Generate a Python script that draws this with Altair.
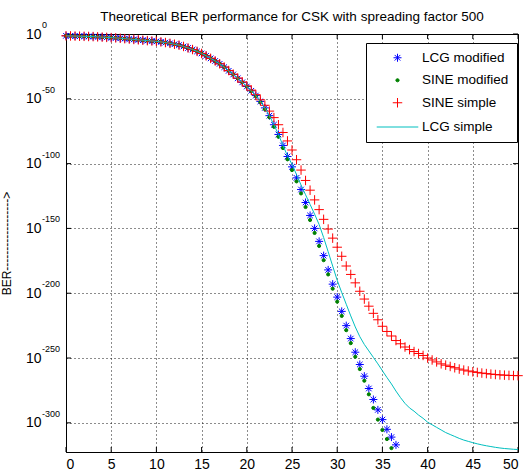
import altair as alt
import pandas as pd

# Eb/N0 grid (dB), sampled every 0.5 dB
snr = [i * 0.5 for i in range(101)]

# log10(BER) for each scheme
lcg_modified = [
    -1.4, -1.5, -1.6, -1.7, -1.8, -1.9, -2.0, -2.2, -2.4, -2.6,
    -2.8, -3.0, -3.3, -3.6, -3.9, -4.2, -4.5, -4.8, -5.1, -5.4,
    -5.7, -6.1, -6.6, -7.2, -7.9, -8.6, -9.6, -10.8, -12.0, -13.4,
    -15.0, -16.8, -18.8, -20.8, -23.0, -25.6, -28.4, -31.2, -34.2, -37.3,
    -40.5, -43.8, -47.5, -52.0, -57.0, -63.0, -70.0, -77.5, -86.0, -94.5,
    -102.5, -111.0, -120.0, -130.0, -140.0, -150.0, -160.0, -171.0, -182.0, -193.0,
    -203.0, -214.0, -225.0, -235.0, -245.5, -255.0, -264.0, -273.5, -282.0, -290.0,
    -297.5, -305.0, -311.0, -317.0,
]

sine_modified = [
    -1.4, -1.5, -1.6, -1.7, -1.8, -1.9, -2.0, -2.2, -2.4, -2.6,
    -2.8, -3.0, -3.3, -3.6, -3.9, -4.2, -4.5, -4.8, -5.1, -5.4,
    -5.7, -6.1, -6.6, -7.2, -7.9, -8.6, -9.6, -10.8, -12.0, -13.4,
    -15.0, -16.8, -18.8, -20.8, -23.0, -25.6, -28.4, -31.2, -34.2, -37.3,
    -40.5, -44.1, -48.0, -52.7, -58.0, -64.2, -71.5, -79.3, -88.0, -96.7,
    -105.0, -113.7, -123.0, -133.5, -143.5, -153.5, -163.5, -174.5, -185.5, -196.5,
    -206.5, -217.5, -228.5, -238.5, -249.0, -258.5, -267.5, -278.0, -288.5, -297.5,
    -305.5, -312.5, -319.5,
]

sine_simple = [
    -1.4, -1.5, -1.6, -1.7, -1.8, -1.9, -2.0, -2.2, -2.4, -2.6,
    -2.8, -3.0, -3.3, -3.6, -3.9, -4.2, -4.5, -4.8, -5.1, -5.4,
    -5.7, -6.1, -6.6, -7.2, -7.9, -8.6, -9.6, -10.8, -12.0, -13.4,
    -15.0, -16.8, -18.8, -20.8, -23.0, -25.5, -28.2, -31.0, -34.0, -37.0,
    -40.0, -43.3, -46.8, -50.8, -55.0, -59.5, -64.5, -70.0, -76.0, -82.5,
    -89.5, -97.0, -105.0, -113.0, -120.5, -128.0, -135.5, -143.0, -150.5, -157.5,
    -164.5, -171.5, -179.0, -185.5, -192.0, -198.5, -204.5, -210.0, -215.5, -220.5,
    -225.5, -229.5, -233.0, -236.5, -239.0, -241.5, -243.5, -245.0, -246.5, -248.0,
    -250.0, -251.5, -253.0, -254.5, -255.5, -256.5, -257.5, -258.5, -259.3, -260.0,
    -260.6, -261.1, -261.6, -262.0, -262.4, -262.7, -263.0, -263.2, -263.4, -263.5,
    -263.6,
]

lcg_simple = [
    -1.4, -1.5, -1.6, -1.7, -1.8, -1.9, -2.0, -2.2, -2.4, -2.6,
    -2.8, -3.0, -3.3, -3.6, -3.9, -4.2, -4.5, -4.8, -5.1, -5.4,
    -5.7, -6.1, -6.6, -7.2, -7.9, -8.6, -9.6, -10.8, -12.0, -13.4,
    -15.0, -16.8, -18.8, -20.8, -23.0, -25.6, -28.4, -31.2, -34.2, -37.3,
    -40.5, -43.8, -47.5, -52.0, -57.0, -63.0, -70.0, -77.5, -86.0, -94.0,
    -100.5, -108.5, -116.5, -124.0, -131.5, -139.0, -147.0, -157.0, -168.0, -179.0,
    -190.0, -199.5, -208.5, -217.5, -226.0, -233.5, -239.5, -244.5, -249.5, -254.5,
    -259.8, -265.0, -270.0, -275.5, -280.5, -285.0, -288.5, -291.0, -294.0, -296.5,
    -299.5, -301.5, -303.5, -305.5, -307.5, -309.0, -310.5, -312.0, -313.3, -314.3,
    -315.3, -316.2, -317.0, -317.7, -318.3, -318.9, -319.4, -319.8, -320.1, -320.4,
    -320.6,
]

series_names = ["LCG modified", "SINE modified", "SINE simple", "LCG simple"]
series_colors = ["#0000ff", "#008000", "#ff0000", "#00bfbf"]
series_fills = ["transparent", "#008000", "transparent", "transparent"]

# asterisk, dot, plus, and a short line for the legend entry of the curve
star_path = "M0,-1L0,1M-1,0L1,0M-0.7,-0.7L0.7,0.7M-0.7,0.7L0.7,-0.7"
plus_path = "M0,-1L0,1M-1,0L1,0"
line_path = "M-2.4,0L2.4,0"
series_shapes = [star_path, "circle", plus_path, line_path]
series_sizes = [64, 10, 90, 300]

xtick_values = list(range(0, 51, 5))
ytick_values = [0, -50, -100, -150, -200, -250, -300]
ytick_exponents = ["0", "-50", "-100", "-150", "-200", "-250", "-300"]

rows = []
for name, vals in zip(series_names, [lcg_modified, sine_modified, sine_simple, lcg_simple]):
    for s, v in zip(snr, vals):
        rows.append({"snr": s, "logber": v, "series": name})
df = pd.DataFrame(rows)
yticks_df = pd.DataFrame({"logber": ytick_values, "exponent": ytick_exponents})
xticks_df = pd.DataFrame({"snr": xtick_values})

W, H = 452, 418
TICK = 5
font = "Liberation Sans"
grid_style = dict(gridDash=[1, 3], gridColor="#000000", gridOpacity=0.9)

x_enc = alt.X(
    "snr:Q",
    scale=alt.Scale(domain=[0, 50], nice=False, zero=False),
    axis=alt.Axis(
        values=xtick_values,
        title=None,
        labelFontSize=14,
        labelPadding=5,
        tickSize=0,
        **grid_style,
    ),
)
y_enc = alt.Y(
    "logber:Q",
    scale=alt.Scale(domain=[-322.5, 0], nice=False, zero=False),
    axis=alt.Axis(
        values=ytick_values,
        labelExpr="'10'",
        labelFontSize=14,
        labelPadding=25,
        tickSize=0,
        title="BER" + "-" * 18 + ">",
        titleFontSize=12,
        titleFontWeight="normal",
        titleX=-53,
        **grid_style,
    ),
)

legend_style = alt.Legend(
    title=None,
    orient="none",
    legendX=300,
    legendY=9,
    strokeColor="#000000",
    fillColor="#ffffff",
    padding=8,
    rowPadding=7.5,
    labelFontSize=13.5,
    labelFont=font,
    labelOffset=15,
    symbolOffset=14,
    symbolStrokeWidth=1,
)
color_enc = alt.Color("series:N", scale=alt.Scale(domain=series_names, range=series_colors), legend=legend_style)

points = (
    alt.Chart(df)
    .transform_filter(alt.datum.series != "LCG simple")
    .mark_point(filled=False, strokeWidth=1, opacity=1)
    .encode(
        x=x_enc,
        y=y_enc,
        color=color_enc,
        fill=alt.Fill("series:N", scale=alt.Scale(domain=series_names, range=series_fills), legend=legend_style),
        shape=alt.Shape("series:N", scale=alt.Scale(domain=series_names, range=series_shapes), legend=legend_style),
        size=alt.Size("series:N", scale=alt.Scale(type="ordinal", domain=series_names, range=series_sizes), legend=legend_style),
    )
)

curve = (
    alt.Chart(df)
    .transform_filter(alt.datum.series == "LCG simple")
    .mark_line(strokeWidth=1)
    .encode(x=x_enc, y=y_enc, color=color_enc)
)

# inward tick marks on all four sides of the box
tick_mark = dict(color="#000000", strokeWidth=1)
xticks_bottom = alt.Chart(xticks_df).mark_rule(**tick_mark).encode(x=x_enc, y=alt.value(H), y2=alt.value(H - TICK))
xticks_top = alt.Chart(xticks_df).mark_rule(**tick_mark).encode(x=x_enc, y=alt.value(0), y2=alt.value(TICK))
yticks_left = alt.Chart(yticks_df).mark_rule(**tick_mark).encode(y=y_enc, x=alt.value(0), x2=alt.value(TICK))
yticks_right = alt.Chart(yticks_df).mark_rule(**tick_mark).encode(y=y_enc, x=alt.value(W), x2=alt.value(W - TICK))

# superscript exponents next to the "10" tick labels
exponents = (
    alt.Chart(yticks_df)
    .mark_text(align="left", baseline="middle", dy=-9, fontSize=9, font=font, color="#000000")
    .encode(x=alt.value(-24), y=y_enc, text="exponent:N")
)

chart = (
    alt.layer(xticks_bottom, xticks_top, yticks_left, yticks_right, points, curve, exponents)
    .properties(
        width=W,
        height=H,
        autosize=alt.AutoSizeParams(type="none"),
        padding={"left": 66, "top": 34, "right": 8, "bottom": 24},
        title=alt.Title(
            "Theoretical BER performance for CSK with spreading factor 500",
            fontSize=13.5,
            fontWeight="normal",
            font=font,
            offset=8,
            dy=10,
        ),
    )
    .configure(font=font, background="#ffffff")
    .configure_view(stroke="#000000", strokeWidth=1)
    .configure_axis(labelColor="#000000", domainColor="#000000", labelFont=font, titleFont=font, titleColor="#000000")
    .configure_legend(labelFontSize=13.5, labelColor="#000000")
)

chart.save("out.html", embed_options={"renderer": "svg", "actions": False})
